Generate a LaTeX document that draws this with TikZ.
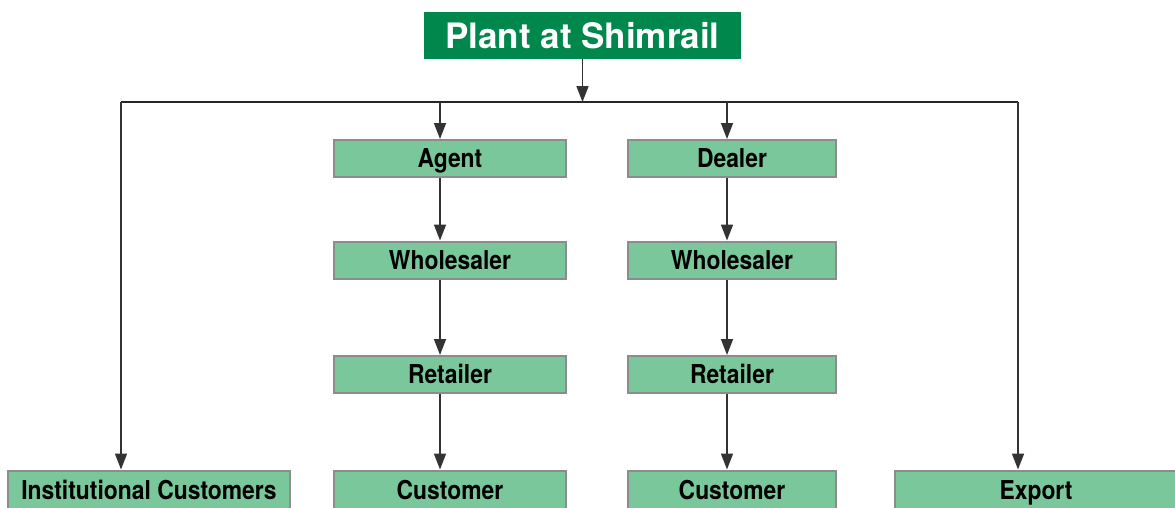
\documentclass[tikz,border=0pt]{standalone}
\usepackage{fontspec}
\setmainfont{TeX Gyre Heros}
\newfontfamily\boxfont[FakeStretch=0.88]{TeX Gyre Heros}
\usetikzlibrary{arrows.meta}
\definecolor{darkgreen}{RGB}{0,135,75}
\definecolor{lightgreen}{RGB}{122,199,155}
\definecolor{boxedge}{RGB}{140,140,140}
\tikzset{
  titlebox/.style={fill=darkgreen, draw=none, text=white, minimum width=317pt, minimum height=47pt,
    inner sep=0pt, text height=25pt, text depth=0pt,
    font=\fontsize{35}{37}\selectfont\bfseries},
  chanbox/.style={fill=lightgreen, draw=boxedge, line width=2pt, minimum height=37pt,
    inner sep=0pt, text height=18.7pt, text depth=0pt,
    font=\boxfont\fontsize{26}{28}\selectfont\bfseries},
  flow/.style={draw=black!80, line width=1.6pt, -{Triangle[length=16pt,width=12pt]}},
  bus/.style={draw=black!85, line width=1.6pt}
}
\begin{document}
\begin{tikzpicture}[x=1pt,y=-1pt]
\useasboundingbox (0,0) rectangle (1175,507);

% source
\node[titlebox] (plant) at (582.5,35.5) {Plant at Shimrail};

% agent chain
\node[chanbox, minimum width=232pt] (agent) at (450,158.5) {Agent};
\node[chanbox, minimum width=232pt] (whl1)  at (450,260)   {Wholesaler};
\node[chanbox, minimum width=232pt] (ret1)  at (450,374.5) {Retailer};
\node[chanbox, minimum width=232pt, minimum height=40pt] (cust1) at (450,490.5) {Customer};

% dealer chain
\node[chanbox, minimum width=208pt] (dealer) at (732,158.5) {Dealer};
\node[chanbox, minimum width=208pt] (whl2)   at (732,260)   {Wholesaler};
\node[chanbox, minimum width=208pt] (ret2)   at (732,374.5) {Retailer};
\node[chanbox, minimum width=208pt, minimum height=40pt] (cust2) at (732,490.5) {Customer};

% direct channels
\node[chanbox, minimum width=282pt, minimum height=40pt] (inst) at (149,490.5) {Institutional Customers};
\node[chanbox, minimum width=282pt, minimum height=40pt] (export) at (1036,490.5) {Export};

% distribution bus
\coordinate (busL) at (121,102);
\coordinate (busR) at (1018,102);
\coordinate (busM) at (582.5,102);
\coordinate (busA) at (440,102);
\coordinate (busD) at (727,102);

\draw[flow] (plant.south) -- (busM);
\draw[bus] (busL) -- (busR);
\draw[flow] (busL) -- (busL |- inst.north);
\draw[flow] (busR) -- (busR |- export.north);
\draw[flow] (busA) -- (busA |- agent.north);
\draw[flow] (busD) -- (busD |- dealer.north);

% chain arrows
\draw[flow] (busA |- agent.south) -- (busA |- whl1.north);
\draw[flow] (busA |- whl1.south) -- (busA |- ret1.north);
\draw[flow] (busA |- ret1.south) -- (busA |- cust1.north);
\draw[flow] (busD |- dealer.south) -- (busD |- whl2.north);
\draw[flow] (busD |- whl2.south) -- (busD |- ret2.north);
\draw[flow] (busD |- ret2.south) -- (busD |- cust2.north);
\end{tikzpicture}
\end{document}
